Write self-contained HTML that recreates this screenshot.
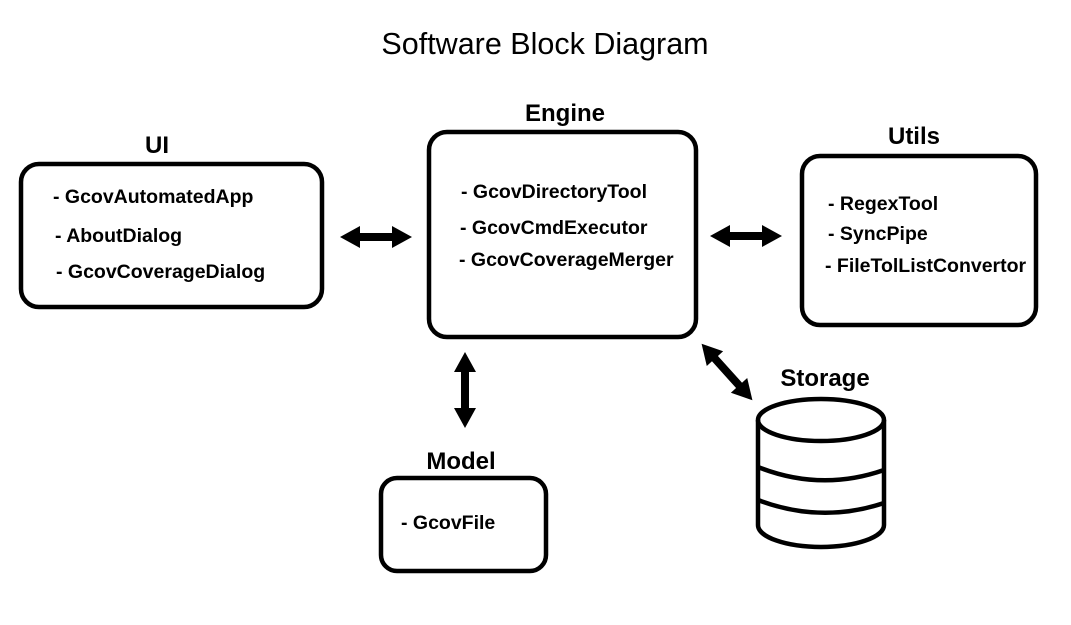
<!DOCTYPE html>
<html><head><meta charset="utf-8"><style>
html,body{margin:0;padding:0;background:#fff;width:1071px;height:625px;overflow:hidden}
svg text{font-family:"Liberation Sans",Arial,sans-serif;fill:#000}
.it{font-size:19.5px;font-weight:bold}
.lb{font-size:24px;font-weight:bold}
</style></head><body>
<svg width="1071" height="625" viewBox="0 0 1071 625" xmlns="http://www.w3.org/2000/svg">
<text x="545" y="54" font-size="30.5" text-anchor="middle">Software Block Diagram</text>
<g fill="none" stroke="#000" stroke-width="4.5">
<rect x="21" y="164" width="301" height="143" rx="18"/>
<rect x="429" y="132" width="267" height="205" rx="18"/>
<rect x="802" y="156" width="234" height="169" rx="18"/>
<rect x="381" y="478" width="165" height="93" rx="16"/>
<path d="M758,420 L758,525 A63,22 0 0 0 884,525 L884,420"/>
<ellipse cx="821" cy="420" rx="63" ry="21"/>
<path d="M758,467 Q821,492 884,470"/>
<path d="M758,500 Q821,524 884,503"/>
</g>
<text class="lb" x="157" y="153" text-anchor="middle">UI</text>
<text class="lb" x="565" y="121" text-anchor="middle">Engine</text>
<text class="lb" x="914" y="144" text-anchor="middle">Utils</text>
<text class="lb" x="461" y="469" text-anchor="middle">Model</text>
<text class="lb" x="825" y="386" text-anchor="middle">Storage</text>
<text class="it" x="53" y="203">- GcovAutomatedApp</text>
<text class="it" x="55" y="242">- AboutDialog</text>
<text class="it" x="56" y="278">- GcovCoverageDialog</text>
<text class="it" x="461" y="198">- GcovDirectoryTool</text>
<text class="it" x="460" y="234">- GcovCmdExecutor</text>
<text class="it" x="459" y="266">- GcovCoverageMerger</text>
<text class="it" x="828" y="210">- RegexTool</text>
<text class="it" x="828" y="240">- SyncPipe</text>
<text class="it" x="825" y="272">- FileTolListConvertor</text>
<text class="it" x="401" y="529">- GcovFile</text>
<g fill="#000">
<polygon points="340,237 360,226 360,233 392,233 392,226 412,237 392,248 392,241 360,241 360,248"/>
<polygon points="710,236 730,225 730,232 762,232 762,225 782,236 762,247 762,240 730,240 730,247"/>
<polygon points="465,352 476,372 469,372 469,408 476,408 465,428 454,408 461,408 461,372 454,372"/>
</g>
<g transform="translate(727,372) rotate(48)" fill="#000">
<polygon points="-38,0 -18,-11 -18,-4 18,-4 18,-11 38,0 18,11 18,4 -18,4 -18,11"/>
</g>
</svg>
</body></html>
